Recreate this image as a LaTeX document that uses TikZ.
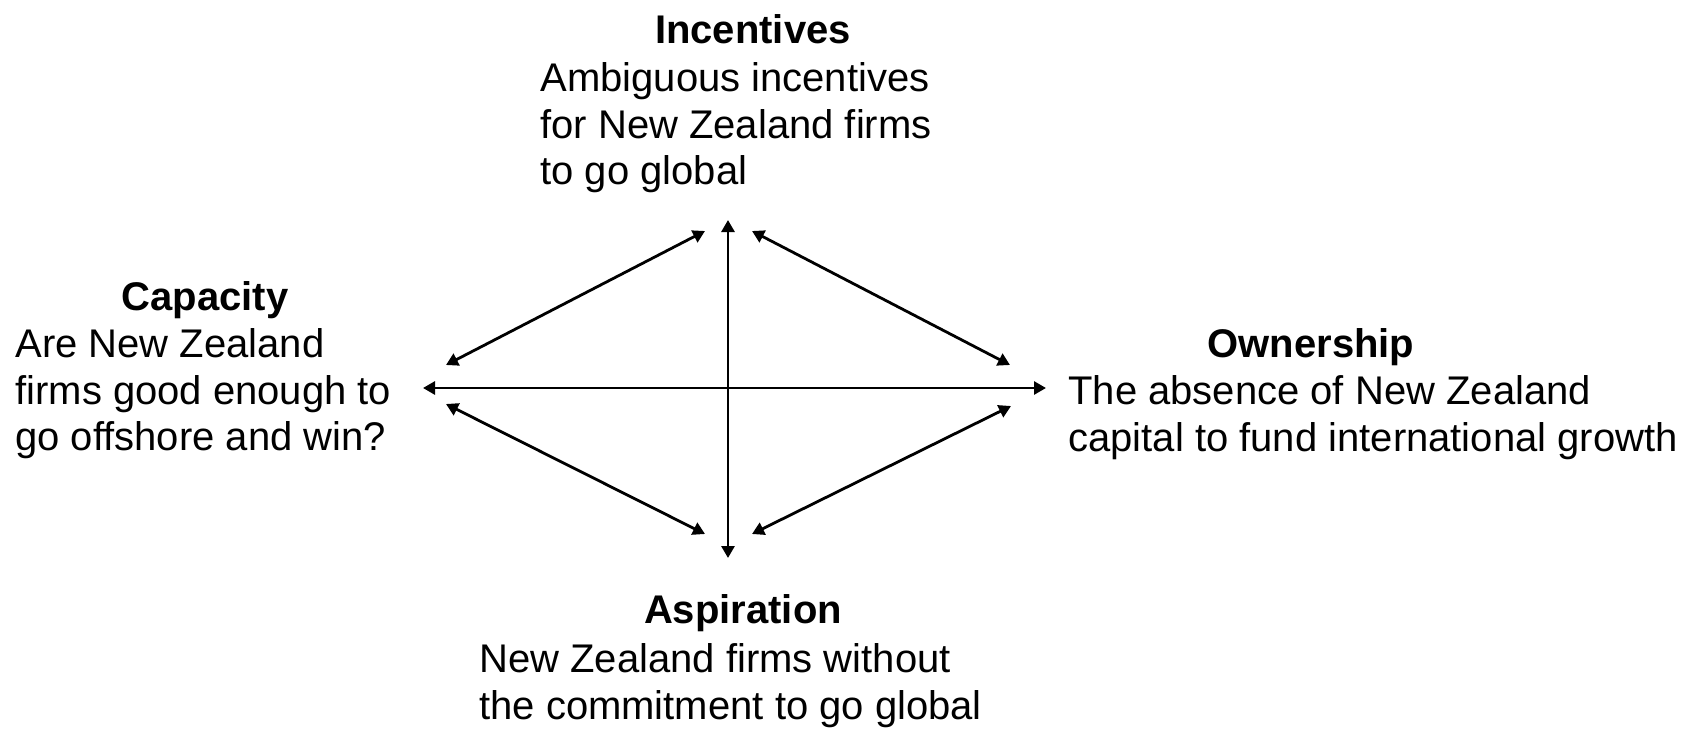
\documentclass[tikz,border=0pt]{standalone}
\usepackage{fontspec}
\setmainfont{Liberation Sans}
\usetikzlibrary{arrows.meta}
\begin{document}
\begin{tikzpicture}[
x=0.5pt, y=-0.5pt,
heading/.style={anchor=base, inner sep=0pt, font={\fontsize{20}{23.35}\selectfont\bfseries}},
body/.style={anchor=north west, inner sep=0pt, align=left, font={\fontsize{20}{23.35}\selectfont}, execute at begin node=\strut},
link/.style={{Triangle[length=6pt,width=6.5pt]}-{Triangle[length=6pt,width=6.5pt]}, line width=1.4pt},
]
\useasboundingbox (0,0) rectangle (1699,729);
% the four forces
\node[heading] (inc) at (753,43) {Incentives};
\node[body] (inc-txt) at (540,62) {Ambiguous incentives\\for New Zealand firms\\to go global};
\node[heading] (cap) at (205,310) {Capacity};
\node[body] (cap-txt) at (15,328) {Are New Zealand\\firms good enough to\\go offshore and win?};
\node[heading] (own) at (1311,357) {Ownership};
\node[body] (own-txt) at (1068,375) {The absence of New Zealand\\capital to fund international growth};
\node[heading] (asp) at (743,623) {Aspiration};
\node[body] (asp-txt) at (479,643) {New Zealand firms without\\the commitment to go global};
% arrow ends
\coordinate (top) at (728,220);
\coordinate (bottom) at (728,558);
\coordinate (left) at (423,388);
\coordinate (right) at (1046,388);
\coordinate (top-l) at (705,231);
\coordinate (top-r) at (752,231);
\coordinate (left-u) at (446,365);
\coordinate (left-d) at (446,404);
\coordinate (right-u) at (1010,365);
\coordinate (right-d) at (1011,406);
\coordinate (bot-l) at (705,534);
\coordinate (bot-r) at (752,534);
\draw[link] (bottom) -- (top);
\draw[link] (left) -- (right);
\draw[link] (left-u) -- (top-l);
\draw[link] (top-r) -- (right-u);
\draw[link] (left-d) -- (bot-l);
\draw[link] (bot-r) -- (right-d);
\end{tikzpicture}
\end{document}
